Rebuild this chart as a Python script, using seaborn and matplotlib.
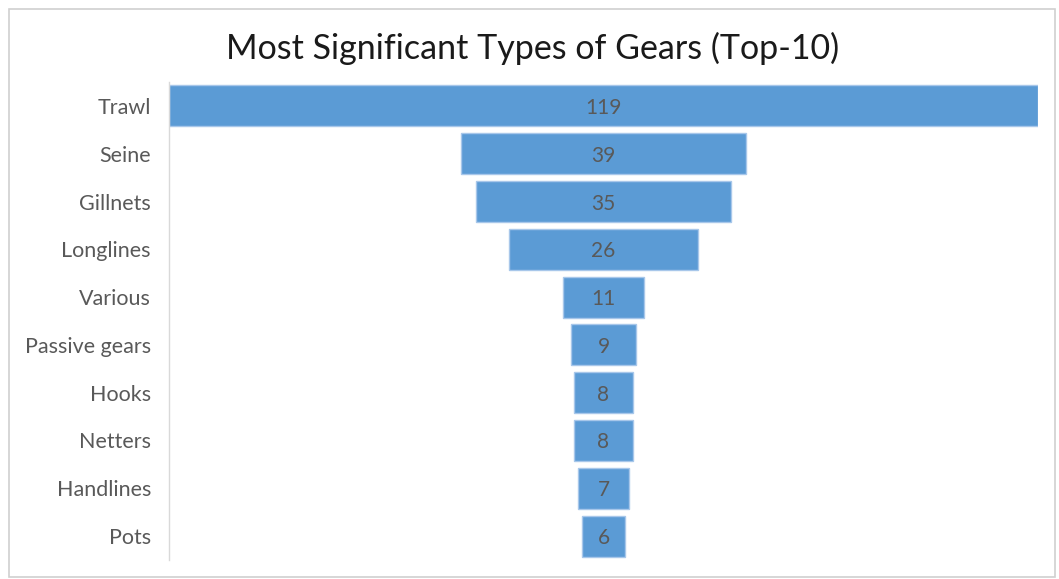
import matplotlib
matplotlib.use("Agg")
import matplotlib.pyplot as plt
import seaborn as sns
import pandas as pd
from matplotlib.patches import Rectangle

categories = ["Trawl", "Seine", "Gillnets", "Longlines", "Various",
              "Passive gears", "Hooks", "Netters", "Handlines", "Pots"]
values = [119, 39, 35, 26, 11, 9, 8, 8, 7, 6]
title = "Most Significant Types of Gears (Top-10)"

sns.set_theme(style="white")
plt.rcParams["font.family"] = ["Lato", "DejaVu Sans"]

df = pd.DataFrame({"gear": categories, "count": values})

fig = plt.figure(figsize=(10.59, 5.79), dpi=100)
ax = fig.add_axes([169/1059, 1 - 560/579, (1038 - 169)/1059, (560 - 82)/579])

sns.barplot(data=df, x="count", y="gear", orient="h", color="#5B9BD5",
            saturation=1, width=0.86, edgecolor="#a8c7ea", linewidth=1, ax=ax)

# center the bars to form a funnel
for p in ax.patches:
    w = p.get_width()
    p.set_x(-w / 2)

for p, v in zip(ax.patches, values):
    ax.text(0, p.get_y() + p.get_height() / 2, str(v), ha="center",
            va="center_baseline", color="#595959", fontsize=15)

m = max(values)
ax.set_xlim(-m / 2, m / 2)
ax.set_ylim(len(categories) - 0.5, -0.5)
ax.set_xlabel("")
ax.set_ylabel("")
ax.set_xticks([])
ax.tick_params(axis="y", length=0, pad=13, labelsize=15.5, labelcolor="#595959")
for s in ["top", "right", "bottom"]:
    ax.spines[s].set_visible(False)
ax.spines["left"].set_color("#d9d9d9")
ax.spines["left"].set_linewidth(1)

fig.text(533/1059, 1 - 48/579, title, ha="center", va="center",
         fontsize=24.5, color="#1a1a1a")

fig.patches.append(Rectangle((9/1059, 1 - 577/579), (1055 - 9)/1059, (577 - 9)/579,
                             transform=fig.transFigure, fill=False,
                             edgecolor="#d0d0d0", linewidth=1.2))

fig.savefig("out.png", dpi=100)
